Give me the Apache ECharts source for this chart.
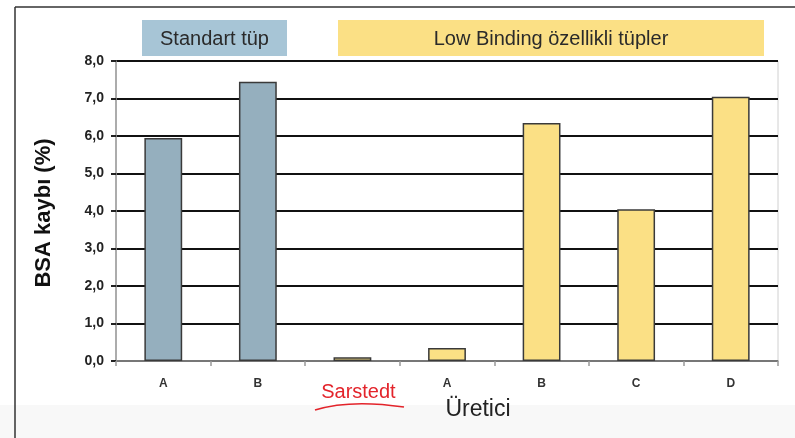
<!DOCTYPE html>
<html><head><meta charset="utf-8">
<script src="https://cdn.jsdelivr.net/npm/echarts@6/dist/echarts.min.js"></script>
<style>html,body{margin:0;padding:0;background:#fff}#c{width:795px;height:438px}</style>
</head><body><div id="c"></div>
<script>
const categories = ['A', 'B', 'Sarstedt', 'A', 'B', 'C', 'D'];
const values = [5.95, 7.45, 0.1, 0.35, 6.35, 4.05, 7.05];
const groups = ['std', 'std', 'low', 'low', 'low', 'low', 'low'];
const yTicks = [0, 1, 2, 3, 4, 5, 6, 7, 8];
const headerStd = 'Standart tüp';
const headerLow = 'Low Binding özellikli tüpler';
const yTitle = 'BSA kaybı (%)';
const xTitle = 'Üretici';

const colors = { std: '#95afbe', low: '#fbe085' };
const font = '"Liberation Sans", Arial, sans-serif';

const chart = echarts.init(document.getElementById('c'));
chart.setOption({
  animation: false,
  textStyle: { fontFamily: font },
  grid: { left: 116, right: 17, top: 61, bottom: 77, show: true, borderColor: '#d0d0d0', borderWidth: 1 },
  xAxis: {
    type: 'category', data: categories,
    axisLine: { lineStyle: { color: '#999', width: 1.5 } },
    axisTick: { show: true, length: 5, lineStyle: { color: '#999', width: 1.5 } },
    axisLabel: {
      margin: 17, color: '#333', fontSize: 12, fontWeight: 'bold',
      formatter: v => v === 'Sarstedt' ? '{s|' + v + '}' : v,
      rich: { s: { color: '#e3242b', fontSize: 20, fontWeight: 'normal', padding: [4, 0, 0, 12], fontFamily: font } }
    }
  },
  yAxis: {
    type: 'value', min: 0, max: 8, interval: 1,
    axisLine: { show: true, lineStyle: { color: '#999', width: 1.5 } },
    axisTick: { show: true, length: 5, lineStyle: { color: '#222', width: 2 } },
    axisLabel: { color: '#222', fontSize: 14, fontWeight: 'bold', margin: 12,
      formatter: v => v.toFixed(1).replace('.', ',') },
    splitLine: { show: true, lineStyle: { color: '#111', width: 2 } }
  },
  series: [{
    type: 'bar', barWidth: '40%', z: 3,
    data: values.map((v, i) => ({ value: v, itemStyle: { color: colors[groups[i]] } })),
    itemStyle: { borderColor: '#3a3a3a', borderWidth: 1.5 }
  }],
  graphic: [
    { type: 'rect', z: -10, shape: { x: 0, y: 405, width: 795, height: 33 }, style: { fill: '#f8f8f8' } },
    { type: 'line', shape: { x1: 15, y1: 7, x2: 795, y2: 7 }, style: { stroke: '#333', lineWidth: 1.5 } },
    { type: 'line', shape: { x1: 15, y1: 7, x2: 15, y2: 438 }, style: { stroke: '#333', lineWidth: 1.5 } },
    { type: 'rect', shape: { x: 142, y: 20, width: 145, height: 36 }, style: { fill: '#a7c5d6' } },
    { type: 'text', x: 214.5, y: 39, style: { text: headerStd, font: '20px ' + font, fill: '#2a2a2a', align: 'center', verticalAlign: 'middle' } },
    { type: 'rect', shape: { x: 338, y: 20, width: 426, height: 36 }, style: { fill: '#fbe085' } },
    { type: 'text', x: 551, y: 39, style: { text: headerLow, font: '20px ' + font, fill: '#2a2a2a', align: 'center', verticalAlign: 'middle' } },
    { type: 'text', x: 44, y: 213, rotation: Math.PI / 2, style: { text: yTitle, font: 'bold 22px ' + font, fill: '#111', align: 'center', verticalAlign: 'middle' } },
    { type: 'text', x: 478, y: 410, style: { text: xTitle, font: '23px ' + font, fill: '#222', align: 'center', verticalAlign: 'middle' } },
    { type: 'bezierCurve', shape: { x1: 315, y1: 410, cpx1: 350, cpy1: 399, x2: 404, y2: 407 }, style: { stroke: '#e3242b', lineWidth: 1.5, fill: null } }
  ]
});
</script></body></html>
